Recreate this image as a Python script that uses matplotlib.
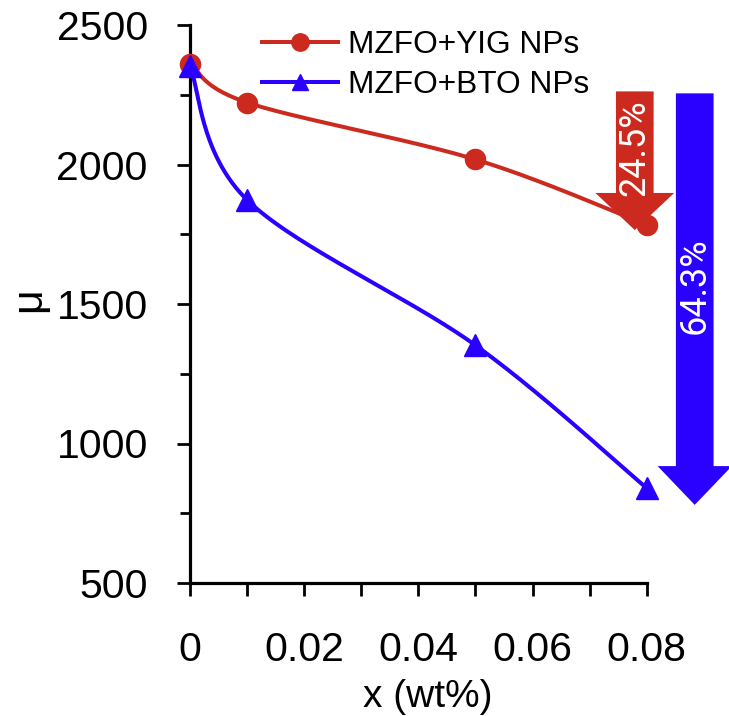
import numpy as np
import matplotlib
matplotlib.use("Agg")
import matplotlib.pyplot as plt
from matplotlib.lines import Line2D
from matplotlib.patches import FancyArrow
from matplotlib.ticker import FixedLocator

plt.rcParams['font.family'] = ['Liberation Sans', 'DejaVu Sans']

# ---- data ----
x_vals = [0.0, 0.01, 0.05, 0.08]
yig = [2362, 2222, 2018, 1784]
bto = [2352, 1873, 1352, 840]
labels = ["MZFO+YIG NPs", "MZFO+BTO NPs"]
pct_labels = ["24.5%", "64.3%"]
x_ticks = [0, 0.02, 0.04, 0.06, 0.08]
x_ticklabels = ["0", "0.02", "0.04", "0.06", "0.08"]
y_ticks = [500, 1000, 1500, 2000, 2500]

RED = "#cc2a1f"
BLUE = "#2a00ff"

fig = plt.figure(figsize=(7.29, 7.16), dpi=100)
ax = fig.add_axes([190/729, 133/716, 539/729, 558/716])
ax.set_xlim(0, 0.0944)
ax.set_ylim(500, 2500)


def smooth(ax, xs, ys, n=60):
    pts = ax.transData.transform(np.column_stack([xs, ys]))
    P = np.vstack([pts[0], pts, pts[-1]])
    out = []
    for i in range(1, len(P) - 2):
        p0, p1, p2, p3 = P[i - 1], P[i], P[i + 1], P[i + 2]
        c1 = p1 + (p2 - p0) / 6.0
        c2 = p2 - (p3 - p1) / 6.0
        t = np.linspace(0, 1, n)[:, None]
        seg = ((1 - t) ** 3) * p1 + 3 * ((1 - t) ** 2) * t * c1 + 3 * (1 - t) * t ** 2 * c2 + t ** 3 * p2
        out.append(seg)
    out = np.vstack(out)
    d = ax.transData.inverted().transform(out)
    return d[:, 0], d[:, 1]


# arrows
ax.add_patch(FancyArrow(0.0779, 2262, 0, 1765 - 2262, width=0.0066, head_width=0.0138,
                        head_length=133, length_includes_head=True, color=RED,
                        linewidth=0, clip_on=False, zorder=2))
ax.add_patch(FancyArrow(0.0884, 2255, 0, 780 - 2255, width=0.0066, head_width=0.0130,
                        head_length=139, length_includes_head=True, color=BLUE,
                        linewidth=0, clip_on=False, zorder=2))
ax.text(0.0779, 2060, pct_labels[0], rotation=90, color="white", ha="center", va="center",
        fontsize=26, family=["Roboto", "DejaVu Sans"], zorder=5)
ax.text(0.0884, 1565, pct_labels[1], rotation=90, color="white", ha="center", va="center",
        fontsize=26, family=["Roboto", "DejaVu Sans"], zorder=5)

LW = 2.9
sx, sy = smooth(ax, x_vals, yig)
ax.plot(sx, sy, color=RED, lw=LW, zorder=3, clip_on=False, solid_capstyle='round')
ax.plot(x_vals, yig, 'o', color=RED, ms=14.5, zorder=4, clip_on=False)
sx, sy = smooth(ax, x_vals, bto)
ax.plot(sx, sy, color=BLUE, lw=LW, zorder=3, clip_on=False, solid_capstyle='round')
ax.plot(x_vals, bto, '^', color=BLUE, ms=16, zorder=4, clip_on=False)

# axes style
for s in ['top', 'right']:
    ax.spines[s].set_visible(False)
ax.spines['left'].set_linewidth(2.3)
ax.spines['bottom'].set_linewidth(2.3)
ax.spines['bottom'].set_bounds(0, 0.08)
ax.set_xticks(x_ticks)
ax.set_xticklabels(x_ticklabels)
ax.xaxis.set_minor_locator(FixedLocator([0.01, 0.03, 0.05, 0.07]))
ax.set_yticks(y_ticks)
ax.yaxis.set_minor_locator(FixedLocator([750, 1250, 1750, 2250]))
ax.tick_params(axis='x', which='both', direction='out', length=9.4, width=2.0,
               labelsize=29.5, pad=25)
ax.tick_params(axis='y', which='major', direction='out', length=9.4, width=2.0,
               labelsize=29.5, pad=21)
ax.tick_params(axis='y', which='minor', direction='out', length=7, width=2.0)

fig.text(428/729, 1 - 697/716, "x (wt%)", ha='center', va='center', fontsize=28)
fig.text(29/729, 1 - 300/716, "μ", ha='center', va='center', fontsize=31, rotation=90)

handles = [Line2D([], [], color=RED, lw=LW, marker='o', ms=12.5),
           Line2D([], [], color=BLUE, lw=LW, marker='^', ms=12)]
fig.legend(handles, labels, loc='upper left', bbox_to_anchor=(262/729, 1 - 30/716),
           frameon=False, fontsize=22.8, handlelength=2.4, handletextpad=0.3,
           labelspacing=0.32, borderpad=0, borderaxespad=0)

fig.savefig("out.png", dpi=100)
